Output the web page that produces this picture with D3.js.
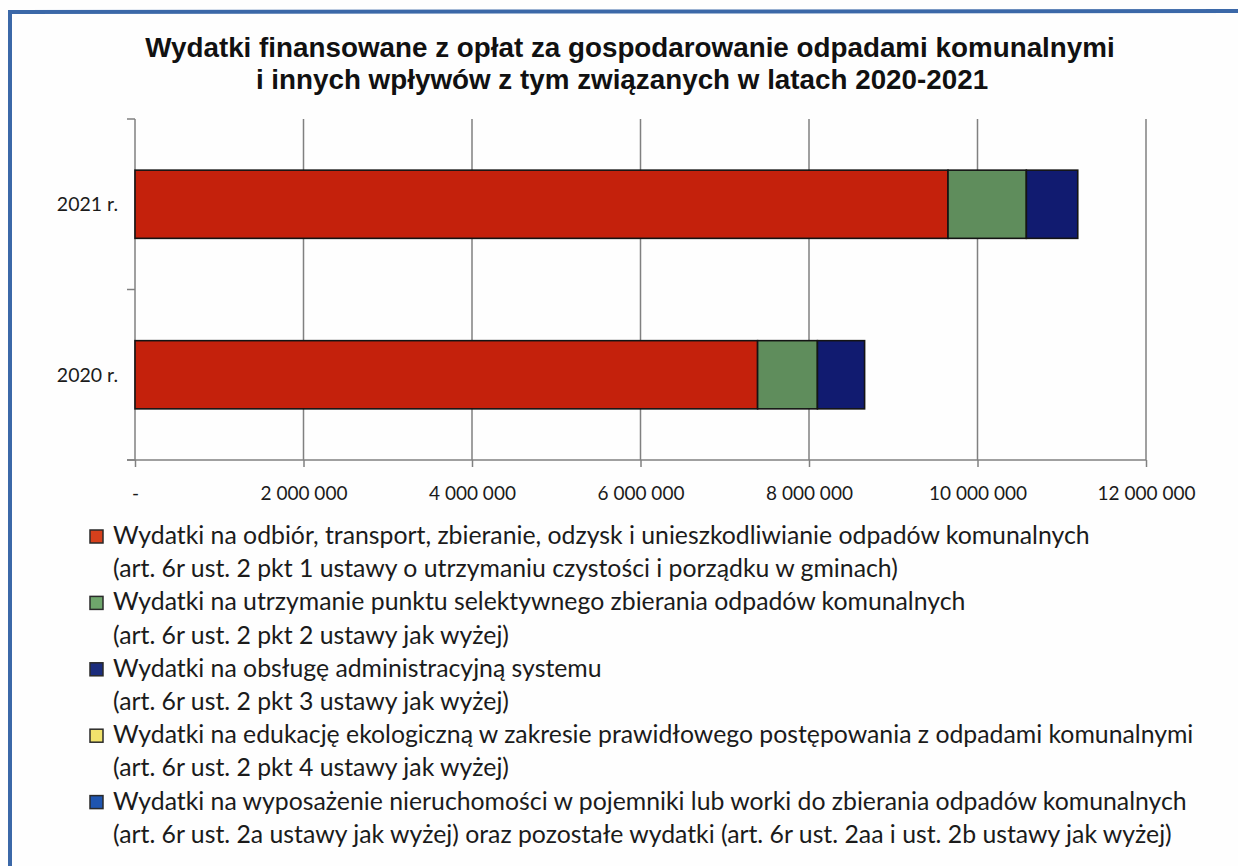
<!DOCTYPE html>
<html lang="pl">
<head>
<meta charset="utf-8">
<script src="https://cdn.jsdelivr.net/npm/d3@7"></script>
<style>
  html, body { margin: 0; padding: 0; background: #ffffff; }
  svg { display: block; }
</style>
</head>
<body>
<svg id="chart" width="1238" height="866"></svg>
<script>
// Years shown on the vertical axis (top to bottom)
const categories = ["2021 r.", "2020 r."];

// Expenditure per category, PLN
const odbiorTransport = [9650000, 7390000];
const punktSelektywny = [930000, 710000];
const obslugaAdmin = [610000, 560000];
const edukacjaEko = [0, 0];
const wyposazenie = [0, 0];

// Horizontal axis ticks and their labels
const xTicks = [0, 2000000, 4000000, 6000000, 8000000, 10000000, 12000000];
const xTickLabels = ["-", "2 000 000", "4 000 000", "6 000 000", "8 000 000", "10 000 000", "12 000 000"];

const titleLines = [
  "Wydatki finansowane z opłat za gospodarowanie odpadami komunalnymi",
  "i innych wpływów z tym związanych w latach 2020-2021"
];

const seriesKeys = ["odbior", "psz", "admin", "edu", "wyp"];
const seriesValues = [odbiorTransport, punktSelektywny, obslugaAdmin, edukacjaEko, wyposazenie];
const seriesColors = ["#c4210c", "#5f8d5c", "#111b70", "#f1e36c", "#1f52ad"];
const legendMarkerColors = ["#d6401c", "#6fa66c", "#1b2c7c", "#f1e36c", "#1f55b0"];
const legendLines = [
  ["Wydatki na odbiór, transport, zbieranie, odzysk i unieszkodliwianie odpadów komunalnych",
   "(art. 6r ust. 2 pkt 1 ustawy o utrzymaniu czystości i porządku w gminach)"],
  ["Wydatki na utrzymanie punktu selektywnego zbierania odpadów komunalnych",
   "(art. 6r ust. 2 pkt 2 ustawy jak wyżej)"],
  ["Wydatki na obsługę administracyjną systemu",
   "(art. 6r ust. 2 pkt 3 ustawy jak wyżej)"],
  ["Wydatki na edukację ekologiczną w zakresie prawidłowego postępowania z odpadami komunalnymi",
   "(art. 6r ust. 2 pkt 4 ustawy jak wyżej)"],
  ["Wydatki na wyposażenie nieruchomości w pojemniki lub worki do zbierania odpadów komunalnych",
   "(art. 6r ust. 2a ustawy jak wyżej) oraz pozostałe wydatki (art. 6r ust. 2aa i ust. 2b ustawy jak wyżej)"]
];

// Build a table usable by d3.stack
const table = categories.map((c, i) => {
  const row = { category: c };
  seriesKeys.forEach((k, j) => { row[k] = seriesValues[j][i]; });
  return row;
});

const svg = d3.select("#chart");
const W = 1238, H = 866;
const bodyFont = "Lato, 'Open Sans', sans-serif";
const textColor = "#1b1b1b";
const gridColor = "#808080";

svg.append("rect").attr("width", W).attr("height", H).attr("fill", "#fefefe");

// Frame
svg.append("path")
  .attr("d", "M10,866 L10,12 L1238,11")
  .attr("fill", "none")
  .attr("stroke", "#3b68a8")
  .attr("stroke-width", 4);

// Font size that makes a string span a given width
function fitSize(text, family, weight, base, target) {
  const t = svg.append("text")
    .attr("font-family", family)
    .attr("font-weight", weight)
    .attr("font-size", base)
    .text(text);
  const w = t.node().getComputedTextLength();
  t.remove();
  return w > 0 ? base * target / w : base;
}

// Title
const titleFont = "'Liberation Sans', Arial, sans-serif";
const titleSize = fitSize(titleLines[0], titleFont, "bold", 23, 970);
const title = svg.append("text")
  .attr("text-anchor", "middle")
  .attr("font-family", titleFont)
  .attr("font-weight", "bold")
  .attr("font-size", titleSize)
  .attr("fill", "#111");
title.selectAll("tspan").data(titleLines).join("tspan")
  .attr("x", (d, i) => i === 0 ? 630 : 622)
  .attr("y", (d, i) => 57 + i * 32)
  .text(d => d);

// Plot area
const plot = { left: 135, right: 1146, top: 119, bottom: 460 };

const x = d3.scaleLinear()
  .domain([0, 12000000])
  .range([plot.left, plot.right]);

const y = d3.scaleBand()
  .domain(categories)
  .range([plot.top, plot.bottom])
  .paddingInner(0.6)
  .paddingOuter(0.3);

// Vertical gridlines
svg.append("g")
  .selectAll("line")
  .data(xTicks.slice(1))
  .join("line")
  .attr("x1", d => x(d)).attr("x2", d => x(d))
  .attr("y1", plot.top).attr("y2", plot.bottom)
  .attr("stroke", gridColor)
  .attr("stroke-width", 1.5);

// Horizontal axis
const xAxis = d3.axisBottom(x)
  .tickValues(xTicks)
  .tickSize(7)
  .tickSizeOuter(0)
  .tickPadding(20)
  .tickFormat((d, i) => xTickLabels[i]);

const gx = svg.append("g")
  .attr("transform", `translate(0,${plot.bottom})`)
  .call(xAxis);
gx.select(".domain").attr("stroke", gridColor).attr("stroke-width", 1.5)
  .attr("d", `M${plot.left - 8},0H${plot.right}`);
gx.selectAll(".tick line").attr("stroke", gridColor).attr("stroke-width", 1.5);
gx.selectAll(".tick text")
  .attr("font-family", bodyFont)
  .attr("font-size", 19)
  .attr("fill", textColor);

// Vertical axis: line with ticks at band boundaries
const bandEdges = [plot.top].concat(categories.map(c => y(c) + y.bandwidth() + y.step() * y.paddingInner() / 2));
bandEdges[bandEdges.length - 1] = plot.bottom;
const gy = svg.append("g");
gy.append("line")
  .attr("x1", plot.left).attr("x2", plot.left)
  .attr("y1", plot.top).attr("y2", plot.bottom)
  .attr("stroke", gridColor).attr("stroke-width", 1.5);
gy.selectAll("line.tk").data(bandEdges).join("line")
  .attr("class", "tk")
  .attr("x1", plot.left - 8).attr("x2", plot.left)
  .attr("y1", d => d).attr("y2", d => d)
  .attr("stroke", gridColor).attr("stroke-width", 1.5);
gy.selectAll("text").data(categories).join("text")
  .attr("x", plot.left - 17)
  .attr("y", d => y(d) + y.bandwidth() / 2)
  .attr("dy", "0.35em")
  .attr("text-anchor", "end")
  .attr("font-family", bodyFont)
  .attr("font-size", 19.5)
  .attr("fill", textColor)
  .text(d => d);

// Stacked bars
const stacked = d3.stack().keys(seriesKeys)(table);
svg.append("g")
  .selectAll("g")
  .data(stacked)
  .join("g")
  .attr("fill", (d, i) => seriesColors[i])
  .selectAll("rect")
  .data(d => d.filter(s => s[1] > s[0]))
  .join("rect")
  .attr("x", d => x(d[0]))
  .attr("y", d => y(d.data.category))
  .attr("width", d => x(d[1]) - x(d[0]))
  .attr("height", y.bandwidth())
  .attr("stroke", "#141414")
  .attr("stroke-width", 1.6);

// Legend
const legend = svg.append("g");
const legendTextX = 113;
const legendFontSize = fitSize(legendLines[0][0], bodyFont, "normal", 21, 977);

const lineStep = 33.2;
const firstBaseline = 544;
legendLines.forEach((lines, i) => {
  const base = firstBaseline + i * 2 * lineStep;
  legend.append("rect")
    .attr("x", 90).attr("y", base - 14)
    .attr("width", 13).attr("height", 13)
    .attr("fill", legendMarkerColors[i])
    .attr("stroke", "#2a2a2a")
    .attr("stroke-width", 1.5);
  lines.forEach((t, k) => {
    legend.append("text")
      .attr("x", legendTextX)
      .attr("y", base + k * lineStep)
      .attr("font-family", bodyFont)
      .attr("font-size", legendFontSize)
      .attr("fill", textColor)
      .text(t);
  });
});
</script>
</body>
</html>
